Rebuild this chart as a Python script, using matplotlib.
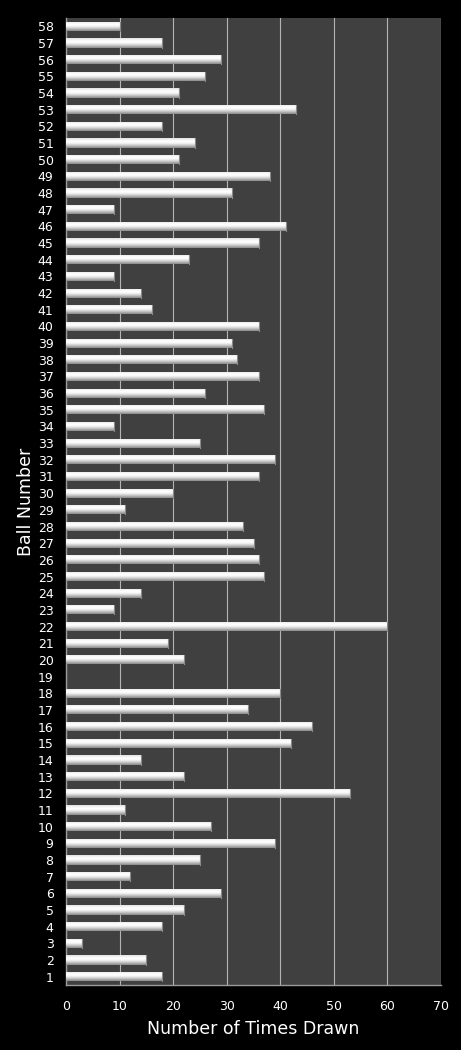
import matplotlib
matplotlib.use("Agg")
import matplotlib.pyplot as plt
import numpy as np

# times each ball was drawn, ball 1..58
balls = list(range(1, 59))
times_drawn = [
    18, 15, 3, 18, 22, 29, 12, 25, 39, 27,
    11, 53, 22, 14, 42, 46, 34, 40, 0, 22,
    19, 60, 9, 14, 37, 36, 35, 33, 11, 20,
    36, 39, 25, 9, 37, 26, 36, 32, 31, 36,
    16, 14, 9, 23, 36, 41, 9, 31, 38, 21,
    24, 18, 43, 21, 26, 29, 18, 10,
]
x_ticks = [0, 10, 20, 30, 40, 50, 60, 70]

fig = plt.figure(figsize=(4.61, 10.5), dpi=100, facecolor="black")
ax = fig.add_axes([66 / 461, 65 / 1050, 375 / 461, 967 / 1050])
ax.set_facecolor("#404040")

bars = ax.barh(balls, times_drawn, height=0.55, color="#e0e0e0",
               edgecolor="none", zorder=3)

# cylinder-like shading: light top, grey underside
grad = np.array([0.58, 0.70, 0.82, 0.92, 0.98, 1.0, 0.96, 0.9]).reshape(-1, 1)
for b in bars:
    if b.get_width() <= 0:
        continue
    x0, y0 = b.get_x(), b.get_y()
    im = ax.imshow(grad, cmap="gray", vmin=0, vmax=1, aspect="auto",
                   extent=(x0, x0 + b.get_width(), y0, y0 + b.get_height()),
                   origin="lower", interpolation="bilinear", zorder=4)
    im.set_clip_path(b)
    ax.plot([x0 + b.get_width()] * 2, [y0, y0 + b.get_height()],
            color="#8a8a8a", lw=0.8, zorder=5)

ax.set_xlim(0, 70)
ax.set_ylim(0.5, 58.5)
ax.set_xticks(x_ticks)
ax.set_yticks(balls)
ax.set_yticklabels([str(b) for b in balls])
ax.xaxis.grid(True, color="#b4b4b4", lw=0.8, zorder=1)
ax.set_axisbelow(True)

ax.tick_params(axis="both", colors="white", length=0, labelsize=9)
ax.tick_params(axis="y", pad=9)
ax.tick_params(axis="x", pad=11)
for side in ("top", "right"):
    ax.spines[side].set_visible(False)
for side in ("left", "bottom"):
    ax.spines[side].set_color("#9a9a9a")
    ax.spines[side].set_linewidth(1.0)

ax.set_xlabel("Number of Times Drawn", color="white", fontsize=12.5, labelpad=5)
ax.set_ylabel("Ball Number", color="white", fontsize=12.5, labelpad=2)

fig.savefig("out.png", dpi=100, facecolor="black")
